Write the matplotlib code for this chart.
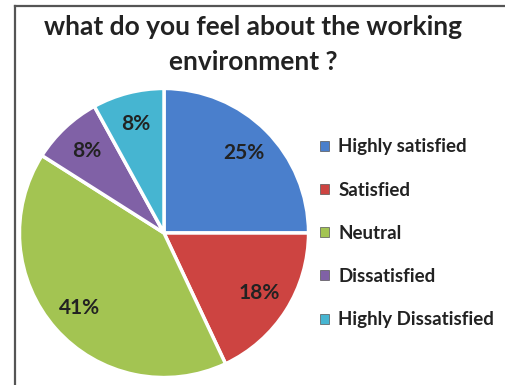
import matplotlib.pyplot as plt
from matplotlib.patches import Patch
from matplotlib.lines import Line2D

"""DATA"""
labels = ["Highly satisfied", "Satisfied", "Neutral", "Dissatisfied", "Highly Dissatisfied"]
shares = [25, 18, 41, 8, 8]
colors = ["#4A7FCC", "#CD4441", "#A3C452", "#8061A6", "#46B5D1"]
title = "what do you feel about the working\nenvironment ?"

plt.rcParams['font.family'] = ['Lato', 'DejaVu Sans']

fig = plt.figure(figsize=(5.06, 3.85), dpi=100)

"""PIE"""
ax = fig.add_axes([18 / 506, 6 / 385, 292 / 506, 292 / 385])
wedges, texts, autotexts = ax.pie(
    shares, colors=colors, startangle=90, counterclock=False,
    autopct="%d%%", pctdistance=0.78,
    wedgeprops=dict(edgecolor="white", linewidth=2.5),
    textprops=dict(fontsize=15, fontweight="bold", color="#222222"),
)
ax.set_xlim(-1.01, 1.01)
ax.set_ylim(-1.01, 1.01)

fig.text(0.5, 0.96, title, ha="center", va="top", fontsize=19,
         fontweight="bold", color="#222222", linespacing=1.55)

"""LEGEND"""
handles = [Patch(facecolor=c, edgecolor="#555555", linewidth=0.5) for c in colors]
leg = fig.legend(handles, labels, loc="center left", bbox_to_anchor=(0.6, 0.394),
                 frameon=False, prop=dict(weight="bold", size=13.5),
                 handlelength=0.45, handleheight=0.45, handletextpad=0.5,
                 labelspacing=1.4)
for t in leg.get_texts():
    t.set_color("#222222")

"""FRAME LINES"""
fig.add_artist(Line2D([15 / 506, 15 / 506], [0, 1 - 6 / 385], color="#555555", linewidth=1.6))
fig.add_artist(Line2D([15 / 506, 1], [1 - 6 / 385, 1 - 6 / 385], color="#555555", linewidth=1.6))

fig.savefig("out.png", dpi=100)
